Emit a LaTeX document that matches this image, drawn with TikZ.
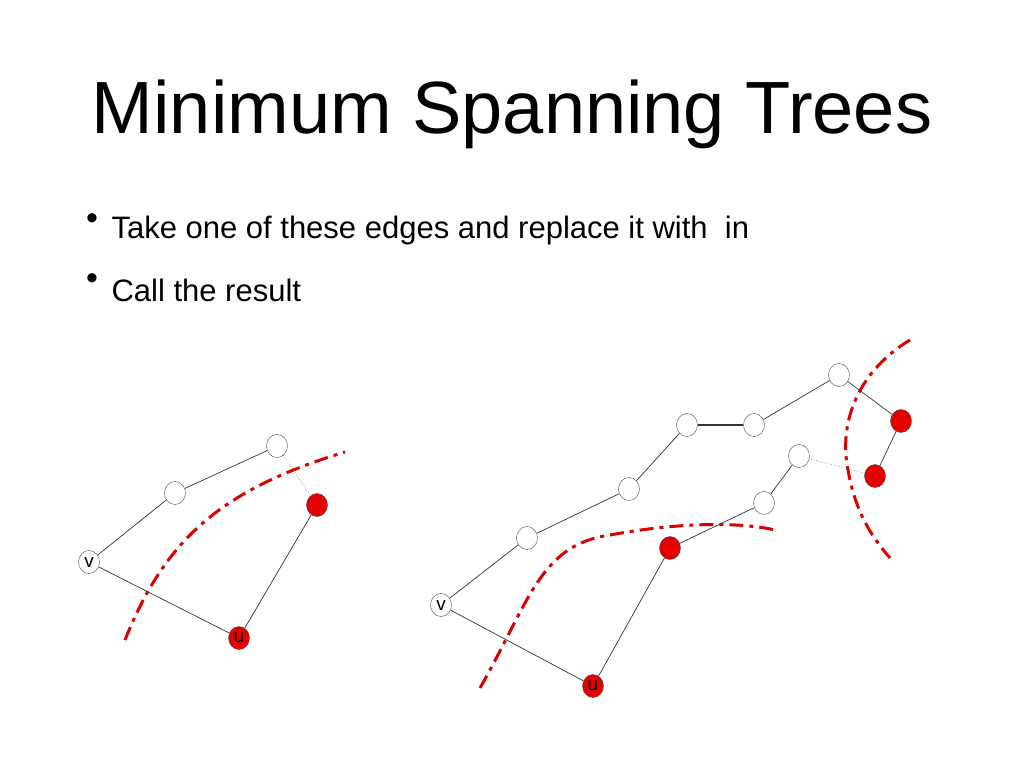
\documentclass[tikz,border=0pt]{standalone}
\usepackage{fontspec}
\setmainfont{Liberation Sans}
\usetikzlibrary{shapes.geometric}
\begin{document}
\begin{tikzpicture}[
    x=1pt,y=-1pt,
    vert/.style={ellipse,draw=black!70,fill=white,minimum width=21pt,minimum height=23pt,inner sep=0pt,font=\fontsize{19}{19}\selectfont},
    redv/.style={vert,fill=red!90!black},
    edge/.style={black!80,line width=0.7pt},
    dots/.style={black!60,dotted,line width=0.6pt},
    cut/.style={red!85!black,line width=3pt,dash pattern=on 14pt off 6pt on 4pt off 6pt}
    ]
    \useasboundingbox (0,0) rectangle (1024,768);
    \node (title) at (512,114) {\fontsize{74}{74}\selectfont Minimum Spanning Trees};
    \node (b1) at (92,222) {\fontsize{34}{34}\selectfont\textbullet};
    \node (b2) at (92,282) {\fontsize{34}{34}\selectfont\textbullet};
    \node (t1) [anchor=west] at (108,230) {\fontsize{31}{31}\selectfont Take one of these edges and replace it with\ \ in};
    \node (t2) [anchor=west] at (108,290) {\fontsize{31}{31}\selectfont Call the result};
    % left graph
    \draw[cut] (125,640) .. controls (165,540) and (220,490) .. (345,452);
    \node (lv) [vert] at (89,562) {v};
    \node (la) [vert] at (175,493) {};
    \node (lb) [vert] at (277,446) {};
    \node (lr) [redv] at (317,505) {};
    \node (lu) [redv] at (239,638) {u};
    \draw[edge] (lv) -- (la);
    \draw[edge] (la) -- (lb);
    \draw[dots] (lb) -- (lr);
    \draw[edge] (lr) -- (lu);
    \draw[edge] (lv) -- (lu);
    % right graph
    \draw[cut] (480,688) .. controls (530,600) and (540,545) .. (610,535) .. controls (680,522) and (740,522) .. (775,530);
    \draw[cut] (910,340) .. controls (860,370) and (838,420) .. (848,470) .. controls (855,510) and (870,535) .. (890,558);
    \node (rv) [vert] at (441,605) {v};
    \node (c1) [vert] at (527,538) {};
    \node (c2) [vert] at (629,489) {};
    \node (c3) [vert] at (687,425) {};
    \node (c4) [vert] at (754,425) {};
    \node (c5) [vert] at (839,375) {};
    \node (r1) [redv] at (901,421) {};
    \node (r2) [redv] at (875,476) {};
    \node (w1) [vert] at (799,456) {};
    \node (w2) [vert] at (764,503) {};
    \node (r3) [redv] at (670,548) {};
    \node (ru) [redv] at (593,686) {u};
    \draw[edge] (rv) -- (c1);
    \draw[edge] (c1) -- (c2);
    \draw[edge] (c2) -- (c3);
    \draw[edge,line width=1.6pt] (c3) -- (c4);
    \draw[edge] (c4) -- (c5);
    \draw[edge] (c5) -- (r1);
    \draw[edge] (r1) -- (r2);
    \draw[dots] (r2) -- (w1);
    \draw[edge] (w1) -- (w2);
    \draw[edge] (w2) -- (r3);
    \draw[edge] (r3) -- (ru);
    \draw[edge] (rv) -- (ru);
\end{tikzpicture}
\end{document}
